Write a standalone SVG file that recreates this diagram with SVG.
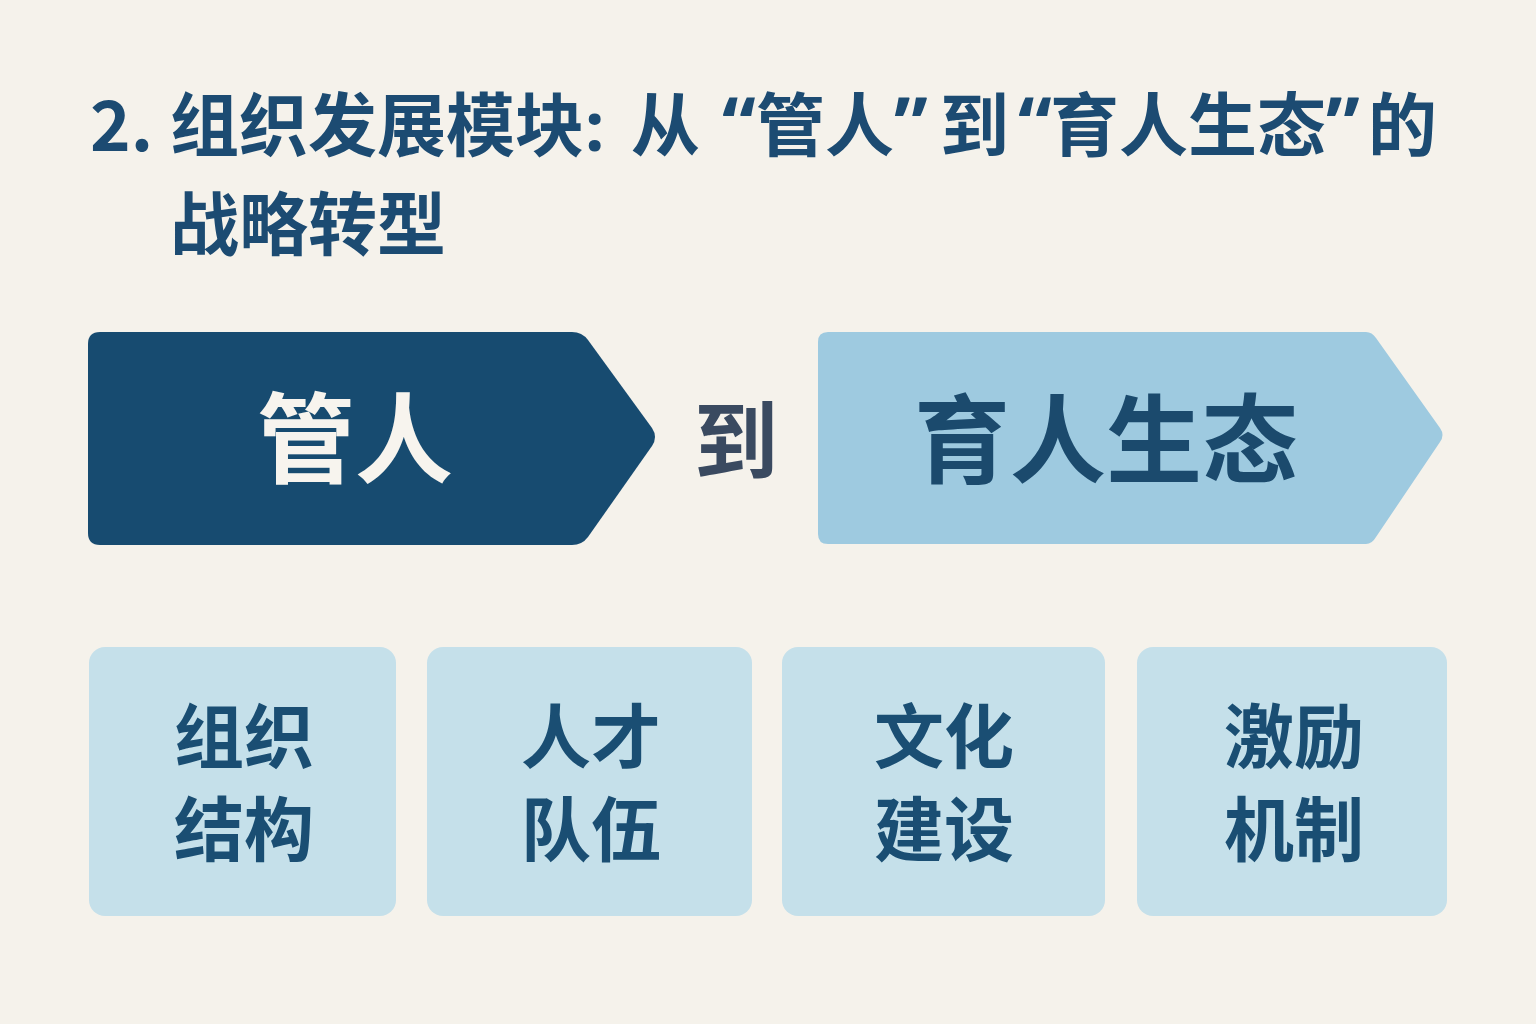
<svg xmlns="http://www.w3.org/2000/svg" width="1536" height="1024" viewBox="0 0 1536 1024">
<style>
  .cjk { font-family: "Noto Sans CJK SC", "Noto Sans", sans-serif; font-weight: 700; }
  .q { font-family: "Noto Sans", "DejaVu Sans", sans-serif; font-weight: 700; }
  .title { fill: #1c4b72; font-size: 69px; }
  .box { fill: #c5e0ea; }
  .boxtxt { fill: #1a4e73; font-size: 70px; text-anchor: middle; }
</style>
<rect x="0" y="0" width="1536" height="1024" fill="#f5f2eb"/>
<g id="title" class="title">
  <text class="cjk" x="90" y="151">2.</text>
  <text class="cjk" x="170" y="151">组织发展模块</text>
  <text class="q" x="585" y="151">:</text>
  <text class="cjk" x="631" y="151">从</text>
  <text class="q" x="722" y="151" font-size="76">“</text>
  <text class="cjk" x="756" y="151">管人</text>
  <text class="q" x="894" y="151" font-size="76">”</text>
  <text class="cjk" x="940" y="151">到</text>
  <text class="q" x="1018" y="151" font-size="76">“</text>
  <text class="cjk" x="1050" y="151">育人生态</text>
  <text class="q" x="1326" y="151" font-size="76">”</text>
  <text class="cjk" x="1368" y="151">的</text>
  <text class="cjk" x="170" y="250">战略转型</text>
</g>
<g id="node-guanren">
  <path d="M100 332 L572 332 Q582 332 588 340 L652 428 Q658 437 652 446 L588 537 Q582 545 572 545 L100 545 Q88 545 88 533 L88 344 Q88 332 100 332 Z" fill="#174b70"/>
  <text class="cjk" x="355" y="475" font-size="98" fill="#f7f4ee" text-anchor="middle">管人</text>
</g>
<g id="connector">
  <text class="cjk" x="736" y="472" font-size="84" fill="#3a4a60" text-anchor="middle">到</text>
</g>
<g id="node-yuren">
  <path d="M828 332 L1366 332 Q1372 332 1376 338 L1440 428 Q1445 435 1440 442 L1376 537 Q1372 544 1366 544 L828 544 Q818 544 818 534 L818 342 Q818 332 828 332 Z" fill="#9ecae0"/>
  <text class="cjk" x="1106" y="475" font-size="96" fill="#1b4a6d" text-anchor="middle">育人生态</text>
</g>
<g id="box-1">
  <rect class="box" x="89" y="647" width="307" height="269" rx="16"/>
  <text class="cjk boxtxt" x="244" y="763">组织</text>
  <text class="cjk boxtxt" x="244" y="856">结构</text>
</g>
<g id="box-2">
  <rect class="box" x="427" y="647" width="325" height="269" rx="16"/>
  <text class="cjk boxtxt" x="591" y="763">人才</text>
  <text class="cjk boxtxt" x="591" y="856">队伍</text>
</g>
<g id="box-3">
  <rect class="box" x="782" y="647" width="323" height="269" rx="16"/>
  <text class="cjk boxtxt" x="944" y="763">文化</text>
  <text class="cjk boxtxt" x="944" y="856">建设</text>
</g>
<g id="box-4">
  <rect class="box" x="1137" y="647" width="310" height="269" rx="16"/>
  <text class="cjk boxtxt" x="1294" y="763">激励</text>
  <text class="cjk boxtxt" x="1294" y="856">机制</text>
</g>
</svg>
